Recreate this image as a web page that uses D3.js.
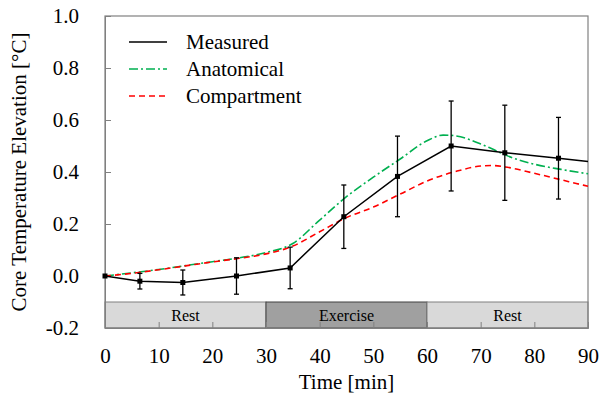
<!DOCTYPE html>
<html>
<head>
<meta charset="utf-8">
<script src="https://cdn.jsdelivr.net/npm/d3@7"></script>
</head>
<body style="margin:0">
<svg id="chart" width="614" height="404"></svg>
<script>
// measured core temperature (mean and error)
const measuredTime = [0, 6.5, 14.5, 24.5, 34.5, 44.5, 54.5, 64.5, 74.5, 84.5, 90];
const measuredValue = [0, -0.02, -0.025, 0.0, 0.031, 0.228, 0.383, 0.50, 0.474, 0.453, 0.44];
const measuredErr = [0, 0.03, 0.048, 0.07, 0.08, 0.122, 0.155, 0.173, 0.183, 0.157, 0];

// simulated curves
const simTime = [0, 5, 10, 15, 20, 25, 30, 35, 40, 45, 50, 55, 60, 63, 65, 70, 72, 75, 80, 85, 90];
const anatomical = [0, 0.012, 0.025, 0.04, 0.055, 0.07, 0.09, 0.125, 0.215, 0.305, 0.38, 0.45, 0.52, 0.542, 0.54, 0.508, 0.49, 0.462, 0.43, 0.41, 0.393];
const compartment = [0, 0.01, 0.024, 0.039, 0.054, 0.068, 0.085, 0.115, 0.17, 0.225, 0.265, 0.315, 0.365, 0.388, 0.40, 0.423, 0.425, 0.418, 0.395, 0.37, 0.345];

// activity phases
const phaseLabels = ["Rest", "Exercise", "Rest"];
const phaseStart = [0, 30, 60];
const phaseEnd = [30, 60, 90];

const xTicks = [0, 10, 20, 30, 40, 50, 60, 70, 80, 90];
const yTicks = [-0.2, 0, 0.2, 0.4, 0.6, 0.8, 1.0];

const W = 614, H = 404;
const mLeft = 105, mRight = 26, mTop = 16, mBottom = 76;
const axisColor = "#808080";
const fontName = "Liberation Serif, Times New Roman, Tinos, serif";

const svg = d3.select("#chart");

const xs = d3.scaleLinear([0, 90], [mLeft, W - mRight]);
const ys = d3.scaleLinear([-0.2, 1.0], [H - mBottom, mTop]);

// phase bands along the bottom
const bandTop = -0.1;
const phases = phaseLabels.map((label, i) => ({ label, start: phaseStart[i], end: phaseEnd[i], ex: label === "Exercise" }));
svg.append("g")
  .selectAll("rect")
  .data(phases)
  .join("rect")
    .attr("x", d => xs(d.start))
    .attr("y", ys(bandTop))
    .attr("width", d => xs(d.end) - xs(d.start))
    .attr("height", ys(-0.2) - ys(bandTop))
    .attr("fill", d => d.ex ? "#a0a0a0" : "#d9d9d9")
    .attr("stroke", d => d.ex ? "#404040" : "#808080")
    .attr("stroke-width", 1);

svg.append("g")
  .selectAll("text")
  .data(phases)
  .join("text")
    .attr("x", d => xs((d.start + d.end) / 2))
    .attr("y", ys(-0.2) - 7)
    .attr("text-anchor", "middle")
    .attr("font-size", 16)
    .text(d => d.label);

// frame
svg.append("rect")
    .attr("x", xs(0))
    .attr("y", ys(1.0))
    .attr("width", xs(90) - xs(0))
    .attr("height", ys(-0.2) - ys(1.0))
    .attr("fill", "none")
    .attr("stroke", axisColor)
    .attr("stroke-width", 1.2);

// axes, ticks drawn inward
const yAxis = d3.axisLeft(ys).tickValues(yTicks).tickSize(-6).tickPadding(26)
    .tickFormat(d => d3.format(".1f")(d).replace("−", "-"));
svg.append("g")
    .attr("transform", `translate(${xs(0)},0)`)
    .call(yAxis)
    .call(g => g.select(".domain").attr("stroke", axisColor))
    .call(g => g.selectAll(".tick line").attr("stroke", axisColor))
    .call(g => g.selectAll(".tick text").attr("fill", "#000").attr("font-size", 21));

const xAxis = d3.axisBottom(xs).tickValues(xTicks).tickSize(-6).tickPadding(20);
svg.append("g")
    .attr("transform", `translate(0,${ys(-0.2)})`)
    .call(xAxis)
    .call(g => g.select(".domain").attr("stroke", axisColor))
    .call(g => g.selectAll(".tick line").attr("stroke", axisColor))
    .call(g => g.selectAll(".tick text").attr("fill", "#000").attr("font-size", 21));

// axis titles
svg.append("text")
    .attr("x", (xs(0) + xs(90)) / 2)
    .attr("y", 389)
    .attr("text-anchor", "middle")
    .attr("font-size", 21)
    .text("Time [min]");

svg.append("text")
    .attr("transform", `translate(26,${(ys(1.0) + ys(-0.2)) / 2}) rotate(-90)`)
    .attr("text-anchor", "middle")
    .attr("font-size", 21)
    .text("Core Temperature Elevation [°C]");

// simulated curves
const simLine = vals => d3.line()
    .x((d, i) => xs(simTime[i]))
    .y(d => ys(d))
    .curve(d3.curveMonotoneX)(vals);

svg.append("path")
    .attr("d", simLine(anatomical))
    .attr("fill", "none")
    .attr("stroke", "#00b050")
    .attr("stroke-width", 1.6)
    .attr("stroke-dasharray", "9,3,2,3");

svg.append("path")
    .attr("d", simLine(compartment))
    .attr("fill", "none")
    .attr("stroke", "#ff0000")
    .attr("stroke-width", 1.6)
    .attr("stroke-dasharray", "6,4");

// measured line with error bars
const measured = measuredTime.map((t, i) => ({ t, v: measuredValue[i], e: measuredErr[i] }));
svg.append("path")
    .attr("d", d3.line().x(d => xs(d.t)).y(d => ys(d.v))(measured))
    .attr("fill", "none")
    .attr("stroke", "#000")
    .attr("stroke-width", 1.5);

const bars = measured.filter(d => d.e > 0);
const eb = svg.append("g").attr("stroke", "#000").attr("stroke-width", 1.3);
eb.selectAll("line.v")
  .data(bars)
  .join("line")
    .attr("class", "v")
    .attr("x1", d => xs(d.t)).attr("x2", d => xs(d.t))
    .attr("y1", d => ys(d.v - d.e)).attr("y2", d => ys(d.v + d.e));
eb.selectAll("line.top")
  .data(bars)
  .join("line")
    .attr("class", "top")
    .attr("x1", d => xs(d.t) - 2.5).attr("x2", d => xs(d.t) + 2.5)
    .attr("y1", d => ys(d.v + d.e)).attr("y2", d => ys(d.v + d.e));
eb.selectAll("line.bot")
  .data(bars)
  .join("line")
    .attr("class", "bot")
    .attr("x1", d => xs(d.t) - 2.5).attr("x2", d => xs(d.t) + 2.5)
    .attr("y1", d => ys(d.v - d.e)).attr("y2", d => ys(d.v - d.e));

svg.append("g")
  .selectAll("rect")
  .data(measured.filter(d => d.t < 90))
  .join("rect")
    .attr("x", d => xs(d.t) - 2.5)
    .attr("y", d => ys(d.v) - 2.5)
    .attr("width", 5)
    .attr("height", 5)
    .attr("fill", "#000");

// legend
const legendLabels = ["Measured", "Anatomical", "Compartment"];
const legendColors = ["#000", "#00b050", "#ff0000"];
const legendDash = [null, "9,3,2,3", "6,4"];
const legend = svg.append("g").attr("transform", "translate(129,42)");
legend.selectAll("line")
  .data(legendLabels)
  .join("line")
    .attr("x1", 0).attr("x2", 38)
    .attr("y1", (d, i) => i * 27).attr("y2", (d, i) => i * 27)
    .attr("stroke", (d, i) => legendColors[i])
    .attr("stroke-width", 1.6)
    .attr("stroke-dasharray", (d, i) => legendDash[i]);
legend.selectAll("text")
  .data(legendLabels)
  .join("text")
    .attr("x", 57)
    .attr("y", (d, i) => i * 27 + 7)
    .attr("font-size", 21)
    .text(d => d);

// serif for every label (the axis groups carry a sans-serif attribute)
svg.selectAll("g").attr("font-family", null);
svg.attr("font-family", fontName);
svg.selectAll("text").attr("font-family", fontName);
</script>
</body>
</html>
